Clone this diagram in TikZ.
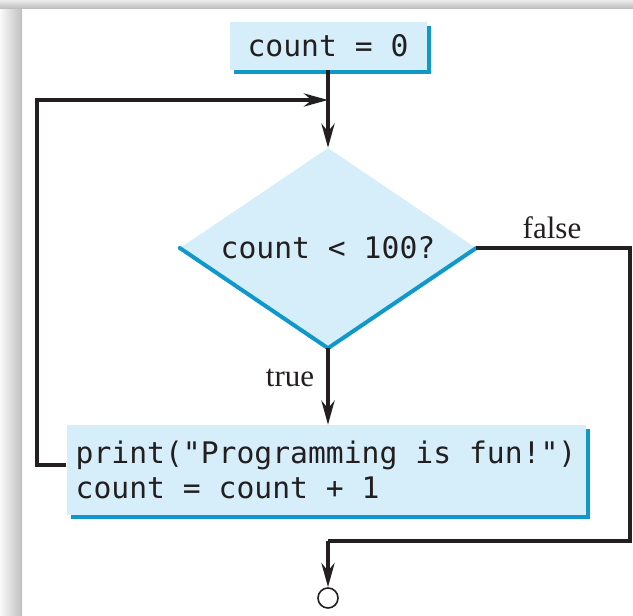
\documentclass[tikz,border=0pt]{standalone}
\usepackage{fontspec}
\setmainfont{Liberation Serif}
\setmonofont{DejaVu Sans Mono}[WordSpace={1,0,0}]
\usepackage{tikz}
\usetikzlibrary{shapes.geometric, arrows.meta, shadows}
\definecolor{boxfill}{RGB}{213,238,249}
\definecolor{boxedge}{RGB}{16,152,203}
\definecolor{ink}{RGB}{35,31,32}

\begin{document}
\begin{tikzpicture}[x=1pt, y=-1pt]
			\tikzstyle{stmt} = [rectangle, fill=boxfill, text=ink, font=\ttfamily\fontsize{29.7pt}{35pt}\selectfont, general shadow={fill=boxedge, shadow xshift=4pt, shadow yshift=-4pt}]
			\tikzstyle{test} = [diamond, aspect=1.48, fill=boxfill, text=ink, inner sep=0pt, minimum width=296pt, minimum height=200pt, font=\ttfamily\fontsize{29.7pt}{35pt}\selectfont]
			\tikzstyle{lbl} = [text=ink, font=\fontsize{31pt}{36pt}\selectfont]
			\tikzstyle{arrow} = [line width=4pt, draw=ink, -{Stealth[length=24pt, width=13pt]}]
			\tikzstyle{wire} = [line width=4pt, draw=ink]

			\useasboundingbox (0,0) rectangle (633,616);
			% frame shadow of the scan
			\fill[left color=gray!5, right color=gray!50] (0,0) rectangle (22,616);
			\fill[top color=gray!15, bottom color=gray!50] (0,0) rectangle (633,8);

			\node (init) at (328,46) [stmt, minimum width=197pt, minimum height=48pt] {count = 0};
			\node (cond) at (328,248) [test] {count < 100?};
			\node (body) at (326,470) [stmt, minimum width=519pt, minimum height=90pt, align=left] {print("Programming is fun!")\\count = count + 1};
			\node (stop) at (328,598) [circle, draw=ink, line width=1.6pt, minimum size=20pt, inner sep=0pt] {};
			\node (yes) at (290,378) [lbl] {true};
			\node (no) at (552,228) [lbl] {false};

			\coordinate (back) at (37,100);
			\coordinate (out) at (630,250);
			\coordinate (join) at (630,541);

			\draw [boxedge, line width=4pt, line cap=round] (cond.west) -- (cond.south) -- (cond.east);

			\draw [arrow] (init.south) -- (cond.north);
			\draw [arrow] (cond.south) -- (body.north -| cond.south);
			\draw [arrow] (body.west |- 0,465) -- (back |- 0,465) -- (back) -- (back -| init.south);
			\draw [wire] (cond.east) -- (cond.east -| out) -- (join) -- (join -| stop.north);
			\draw [arrow] (join -| stop.north) -- (stop.north);

		\end{tikzpicture}
\end{document}
